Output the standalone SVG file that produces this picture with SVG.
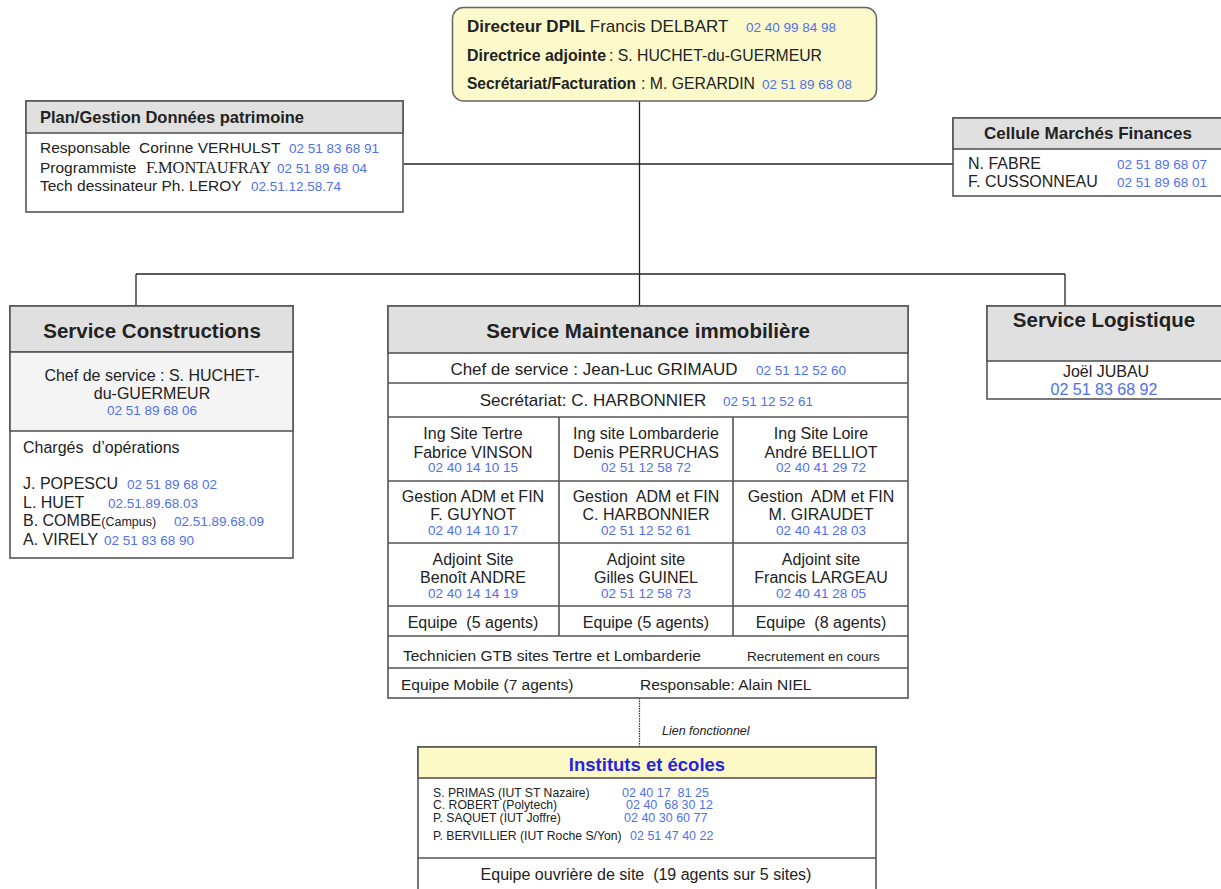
<svg xmlns="http://www.w3.org/2000/svg" width="1221" height="889" viewBox="0 0 1221 889">
  <style>
    text { font-family: "Liberation Sans", Arial, Helvetica, sans-serif; fill: #222; }
    .b { font-weight: bold; }
    .ph { fill: #4f70f0; font-size: 13.5px; }
    .c { text-anchor: middle; }
    .serif { font-family: "Liberation Serif", "Times New Roman", serif; }
    .box { fill: #fff; stroke: #555; stroke-width: 1.6; }
    .hdr { fill: #e0e0e0; stroke: #555; stroke-width: 1.6; }
    .sep { stroke: #555; stroke-width: 1.6; fill: none; }
    .link { stroke: #222; stroke-width: 1.3; fill: none; }
    .dot { stroke: #333; stroke-width: 1.2; stroke-dasharray: 1.5 1; fill: none; }
    .s17 { font-size: 17px; }
    .s16 { font-size: 16px; }
    .s15 { font-size: 15.5px; }
    .s12 { font-size: 12.2px; }
    .h20 { font-size: 20.5px; }
    .ip { fill: #4f70f0; font-size: 12.5px; }
  </style>

  <!-- connectors -->
  <g id="connectors">
    <line class="link" x1="639.5" y1="101" x2="639.5" y2="305"/>
    <line class="link" x1="404" y1="164" x2="953" y2="164"/>
    <line class="link" x1="136" y1="274" x2="1065" y2="274"/>
    <line class="link" x1="136" y1="274" x2="136" y2="306"/>
    <line class="link" x1="1065" y1="274" x2="1065" y2="306"/>
    <line class="dot" x1="639.5" y1="698" x2="639.5" y2="747"/>
    <text x="662" y="735" font-size="12.5" font-style="italic">Lien fonctionnel</text>
  </g>

  <!-- direction -->
  <g id="direction">
    <rect x="452.5" y="7.5" width="424" height="93.5" rx="11" fill="#fcf9ca" stroke="#666" stroke-width="1.5"/>
    <text x="467" y="32" class="s17"><tspan class="b">Directeur DPIL</tspan> Francis DELBART</text>
    <text x="746" y="32" class="ph">02 40 99 84 98</text>
    <text x="467" y="61" class="s17 b" textLength="139" lengthAdjust="spacingAndGlyphs">Directrice adjointe</text>
    <text x="609" y="61" class="s17" textLength="213" lengthAdjust="spacingAndGlyphs">: S. HUCHET-du-GUERMEUR</text>
    <text x="467" y="89" class="s17 b" textLength="169" lengthAdjust="spacingAndGlyphs">Secrétariat/Facturation</text>
    <text x="641" y="89" class="s17" textLength="114" lengthAdjust="spacingAndGlyphs">: M. GERARDIN</text>
    <text x="762" y="89" class="ph">02 51 89 68 08</text>
  </g>

  <!-- plan / gestion données patrimoine -->
  <g id="plan-gestion">
    <rect class="box" x="26" y="101" width="377" height="111"/>
    <rect class="hdr" x="26" y="101" width="377" height="32"/>
    <text x="40" y="123" class="b" font-size="16.5">Plan/Gestion Données patrimoine</text>
    <text x="40" y="153" class="s15">Responsable&#160; Corinne VERHULST</text>
    <text x="289" y="153" class="ph">02 51 83 68 91</text>
    <text x="40" y="173" class="s15">Programmiste</text>
    <text x="146" y="173" class="serif" font-size="16.5" textLength="125" lengthAdjust="spacingAndGlyphs">F.MONTAUFRAY</text>
    <text x="277" y="173" class="ph">02 51 89 68 04</text>
    <text x="40" y="191" class="s15">Tech dessinateur Ph. LEROY</text>
    <text x="251" y="191" class="ph">02.51.12.58.74</text>
  </g>

  <!-- cellule marchés finances -->
  <g id="cellule-marches">
    <rect class="box" x="953" y="118" width="275" height="78"/>
    <rect class="hdr" x="953" y="118" width="275" height="31"/>
    <text x="1088" y="139" class="b c s17">Cellule Marchés Finances</text>
    <text x="968" y="169" class="s16">N. FABRE</text>
    <text x="1117" y="169" class="ph">02 51 89 68 07</text>
    <text x="968" y="187" class="s16">F. CUSSONNEAU</text>
    <text x="1117" y="187" class="ph">02 51 89 68 01</text>
  </g>

  <!-- service constructions -->
  <g id="service-constructions">
    <rect class="box" x="10" y="306" width="283" height="252"/>
    <rect class="hdr" x="10" y="306" width="283" height="46"/>
    <rect x="10" y="352" width="283" height="79" fill="#f4f4f4" stroke="#555" stroke-width="1.6"/>
    <text x="152" y="338" class="b c h20">Service Constructions</text>
    <text x="152" y="381" class="c s16">Chef de service : S. HUCHET-</text>
    <text x="152" y="399" class="c s16">du-GUERMEUR</text>
    <text x="152" y="415" class="c ph">02 51 89 68 06</text>
    <text x="23" y="453" class="s16">Chargés&#160; d’opérations</text>
    <text x="23" y="489" class="s16">J. POPESCU</text>
    <text x="127" y="489" class="ph">02 51 89 68 02</text>
    <text x="23" y="508" class="s16">L. HUET</text>
    <text x="108" y="508" class="ph">02.51.89.68.03</text>
    <text x="23" y="526" class="s16">B. COMBE<tspan font-size="12.5">(Campus)</tspan></text>
    <text x="174" y="526" class="ph">02.51.89.68.09</text>
    <text x="23" y="545" class="s16">A. VIRELY</text>
    <text x="104" y="545" class="ph">02 51 83 68 90</text>
  </g>

  <!-- service maintenance immobilière -->
  <g id="service-maintenance">
    <rect class="box" x="388" y="306" width="520" height="392"/>
    <rect class="hdr" x="388" y="306" width="520" height="47"/>
    <text x="648" y="338" class="b c h20">Service Maintenance immobilière</text>
    <path class="sep" d="M388 383H908M388 417H908M388 481H908M388 543H908M388 606H908M388 636H908M388 668H908M559 417V636M733 417V636"/>
    <text x="594" y="375" class="c s17">Chef de service : Jean-Luc GRIMAUD</text>
    <text x="756" y="375" class="ph">02 51 12 52 60</text>
    <text x="593" y="406" class="c s17">Secrétariat: C. HARBONNIER</text>
    <text x="723" y="406" class="ph">02 51 12 52 61</text>

    <text x="473" y="439" class="c s16">Ing Site Tertre</text>
    <text x="473" y="458" class="c s16">Fabrice VINSON</text>
    <text x="473" y="472" class="c ph">02 40 14 10 15</text>
    <text x="646" y="439" class="c s16">Ing site Lombarderie</text>
    <text x="646" y="458" class="c s16">Denis PERRUCHAS</text>
    <text x="646" y="472" class="c ph">02 51 12 58 72</text>
    <text x="821" y="439" class="c s16">Ing Site Loire</text>
    <text x="821" y="458" class="c s16">André BELLIOT</text>
    <text x="821" y="472" class="c ph">02 40 41 29 72</text>

    <text x="473" y="502" class="c s16">Gestion ADM et FIN</text>
    <text x="473" y="520" class="c s16">F. GUYNOT</text>
    <text x="473" y="535" class="c ph">02 40 14 10 17</text>
    <text x="646" y="502" class="c s16">Gestion&#160; ADM et FIN</text>
    <text x="646" y="520" class="c s16">C. HARBONNIER</text>
    <text x="646" y="535" class="c ph">02 51 12 52 61</text>
    <text x="821" y="502" class="c s16">Gestion&#160; ADM et FIN</text>
    <text x="821" y="520" class="c s16">M. GIRAUDET</text>
    <text x="821" y="535" class="c ph">02 40 41 28 03</text>

    <text x="473" y="565" class="c s16">Adjoint Site</text>
    <text x="473" y="583" class="c s16">Benoît ANDRE</text>
    <text x="473" y="598" class="c ph">02 40 14 14 19</text>
    <text x="646" y="565" class="c s16">Adjoint site</text>
    <text x="646" y="583" class="c s16">Gilles GUINEL</text>
    <text x="646" y="598" class="c ph">02 51 12 58 73</text>
    <text x="821" y="565" class="c s16">Adjoint site</text>
    <text x="821" y="583" class="c s16">Francis LARGEAU</text>
    <text x="821" y="598" class="c ph">02 40 41 28 05</text>

    <text x="473" y="628" class="c s16">Equipe&#160; (5 agents)</text>
    <text x="646" y="628" class="c s16">Equipe (5 agents)</text>
    <text x="821" y="628" class="c s16">Equipe&#160; (8 agents)</text>

    <text x="403" y="661" class="s15">Technicien GTB sites Tertre et Lombarderie</text>
    <text x="747" y="661" font-size="13.5">Recrutement en cours</text>
    <text x="401" y="690" class="s15">Equipe Mobile (7 agents)</text>
    <text x="640" y="690" class="s15">Responsable: Alain NIEL</text>
  </g>

  <!-- service logistique -->
  <g id="service-logistique">
    <rect class="box" x="987" y="306" width="240" height="93"/>
    <rect class="hdr" x="987" y="306" width="240" height="55"/>
    <text x="1104" y="327" class="b c h20">Service Logistique</text>
    <text x="1106" y="377" class="c s16">Joël JUBAU</text>
    <text x="1104" y="395" class="c s16" style="fill:#4f70f0">02 51 83 68 92</text>
  </g>

  <!-- instituts et écoles -->
  <g id="instituts-ecoles">
    <rect class="box" x="418" y="747" width="458" height="150"/>
    <rect x="418" y="747" width="458" height="31" fill="#fcf9c6" stroke="#555" stroke-width="1.6"/>
    <text x="647" y="771" class="b c" font-size="18.5" style="fill:#2424e6">Instituts et écoles</text>
    <text x="433" y="797" class="s12">S. PRIMAS (IUT ST Nazaire)</text>
    <text x="622" y="797" class="ip">02 40 17&#160; 81 25</text>
    <text x="433" y="809" class="s12">C. ROBERT (Polytech)</text>
    <text x="626" y="809" class="ip">02 40&#160; 68 30 12</text>
    <text x="433" y="822" class="s12">P. SAQUET (IUT Joffre)</text>
    <text x="624" y="822" class="ip">02 40 30 60 77</text>
    <text x="433" y="840" class="s12">P. BERVILLIER (IUT Roche S/Yon)</text>
    <text x="630" y="840" class="ip">02 51 47 40 22</text>
    <line class="sep" x1="418" y1="858" x2="876" y2="858"/>
    <text x="646" y="880" class="c s16">Equipe ouvrière de site&#160; (19 agents sur 5 sites)</text>
  </g>
</svg>
